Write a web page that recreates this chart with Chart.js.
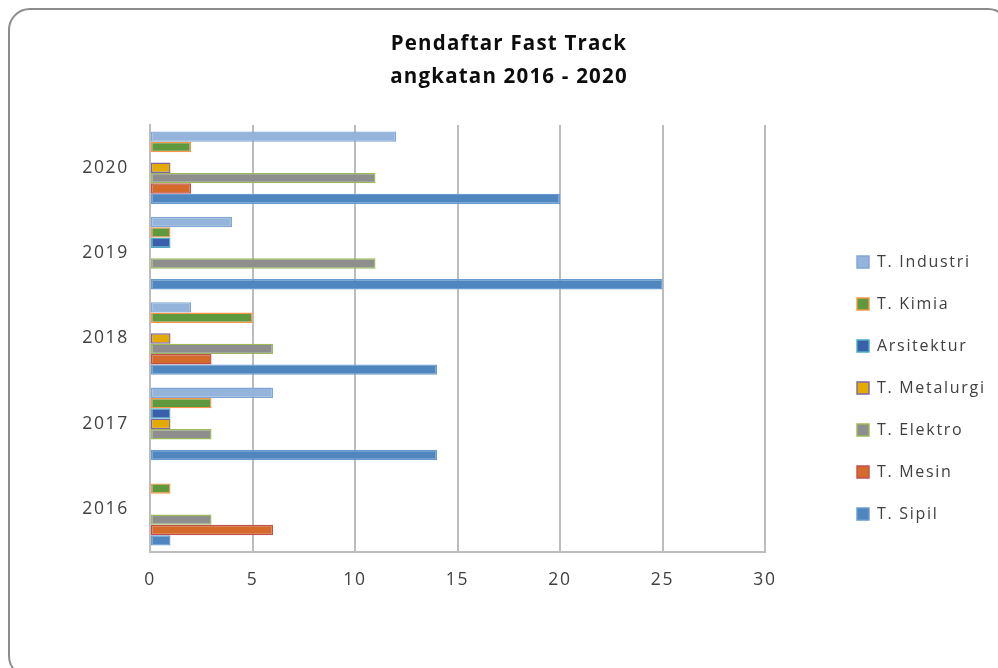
<!DOCTYPE html>
<html>
<head>
<meta charset="utf-8">
<script src="https://cdn.jsdelivr.net/npm/chart.js@4/dist/chart.umd.min.js"></script>
<style>
  html, body { margin: 0; padding: 0; background: #ffffff; overflow: hidden; width: 998px; height: 668px; }
  #frame { position: absolute; left: 8px; top: 8px; width: 1002px; height: 670px; box-sizing: border-box;
           border: 2px solid #8c8c8c; border-radius: 22px; }
  #wrap { position: absolute; left: 8px; top: 8px; width: 1002px; height: 670px; }
</style>
</head>
<body>
<div id="frame"></div>
<div id="wrap"><canvas id="c"></canvas></div>
<script>
// ---- data ----
const YEARS = ['2020', '2019', '2018', '2017', '2016'];
const T_INDUSTRI   = [12, 4, 2, 6, 0];
const T_KIMIA      = [2, 1, 5, 3, 1];
const ARSITEKTUR   = [0, 1, 0, 1, 0];
const T_METALURGI  = [1, 0, 1, 1, 0];
const T_ELEKTRO    = [11, 11, 6, 3, 3];
const T_MESIN      = [2, 0, 3, 0, 6];
const T_SIPIL      = [20, 25, 14, 14, 1];
const X_MIN = 0, X_MAX = 30, X_STEP = 5;
const TITLE = ['Pendaftar Fast Track', 'angkatan 2016 - 2020'];

// ---- styles ----
const FONT = "'Open Sans', 'Liberation Sans', sans-serif";
const LETTER_SPACING = '1.7px';
const TITLE_SPACING = '1.2px';
const GRID = '#bdbdbd';

const series = [
  { label: 'T. Industri',  data: T_INDUSTRI,  bg: '#95b4db', bd: '#7fa6d6' },
  { label: 'T. Kimia',     data: T_KIMIA,     bg: '#5f993e', bd: '#f79646' },
  { label: 'Arsitektur',   data: ARSITEKTUR,  bg: '#3a60ab', bd: '#4bacc6' },
  { label: 'T. Metalurgi', data: T_METALURGI, bg: '#e3aa00', bd: '#8064a2' },
  { label: 'T. Elektro',   data: T_ELEKTRO,   bg: '#8e8e8e', bd: '#9bbb59' },
  { label: 'T. Mesin',     data: T_MESIN,     bg: '#d46b2b', bd: '#c0504d' },
  { label: 'T. Sipil',     data: T_SIPIL,     bg: '#4f86bf', bd: '#6a9bd0' }
];

const tweaks = {
  id: 'tweaks',
  beforeLayout(chart) {
    chart.ctx.letterSpacing = LETTER_SPACING;
    const lg = chart.legend;
    if (lg && !lg._patched) {
      const f = lg.fit.bind(lg);
      lg.fit = function () { f(); this.width = 245; };
      lg._patched = true;
    }
    const tb = chart.titleBlock;
    if (tb && !tb._patched) {
      const d = tb.draw.bind(tb);
      tb.draw = function () {
        const ctx = chart.ctx;
        ctx.letterSpacing = TITLE_SPACING;
        d();
        ctx.letterSpacing = LETTER_SPACING;
      };
      tb._patched = true;
    }
  },
  afterLayout(chart) {
    const lg = chart.legend;
    lg.left += 66; lg.right += 66;
    lg.top += 45; lg.bottom += 45;
  },
  beforeDraw(chart) { chart.ctx.letterSpacing = LETTER_SPACING; }
};

new Chart(document.getElementById('c'), {
  type: 'bar',
  data: {
    labels: YEARS,
    datasets: series.map(s => ({
      label: s.label,
      data: s.data,
      backgroundColor: s.bg,
      borderColor: s.bd,
      borderWidth: 1.4,
      borderSkipped: false,
      categoryPercentage: 0.85,
      barPercentage: 1.0
    }))
  },
  options: {
    indexAxis: 'y',
    responsive: true,
    maintainAspectRatio: false,
    animation: false,
    layout: { padding: 0 },
    plugins: {
      title: {
        display: true,
        text: TITLE,
        color: '#0d0d0d',
        font: { family: FONT, size: 20.5, weight: 'bold', lineHeight: 33 / 20.5 },
        padding: { top: 19.5, bottom: 31.5 }
      },
      legend: {
        position: 'right',
        align: 'center',
        labels: {
          boxWidth: 12,
          boxHeight: 12,
          padding: 26,
          color: '#404040',
          font: { family: FONT, size: 16 }
        }
      },
      tooltip: { enabled: false }
    },
    scales: {
      x: {
        min: X_MIN, max: X_MAX,
        ticks: { stepSize: X_STEP, color: '#404040', padding: 18, font: { family: FONT, size: 17.5 } },
        grid: { color: GRID, lineWidth: 2, drawTicks: false },
        border: { display: true, color: GRID, width: 2 },
        afterFit(s) { s.height = 126; }
      },
      y: {
        ticks: { color: '#404040', padding: 21, font: { family: FONT, size: 17.5 } },
        grid: { display: false, drawTicks: false },
        border: { display: true, color: GRID, width: 2 },
        afterFit(s) { s.width = 142; }
      }
    }
  },
  plugins: [tweaks]
});
</script>
</body>
</html>
